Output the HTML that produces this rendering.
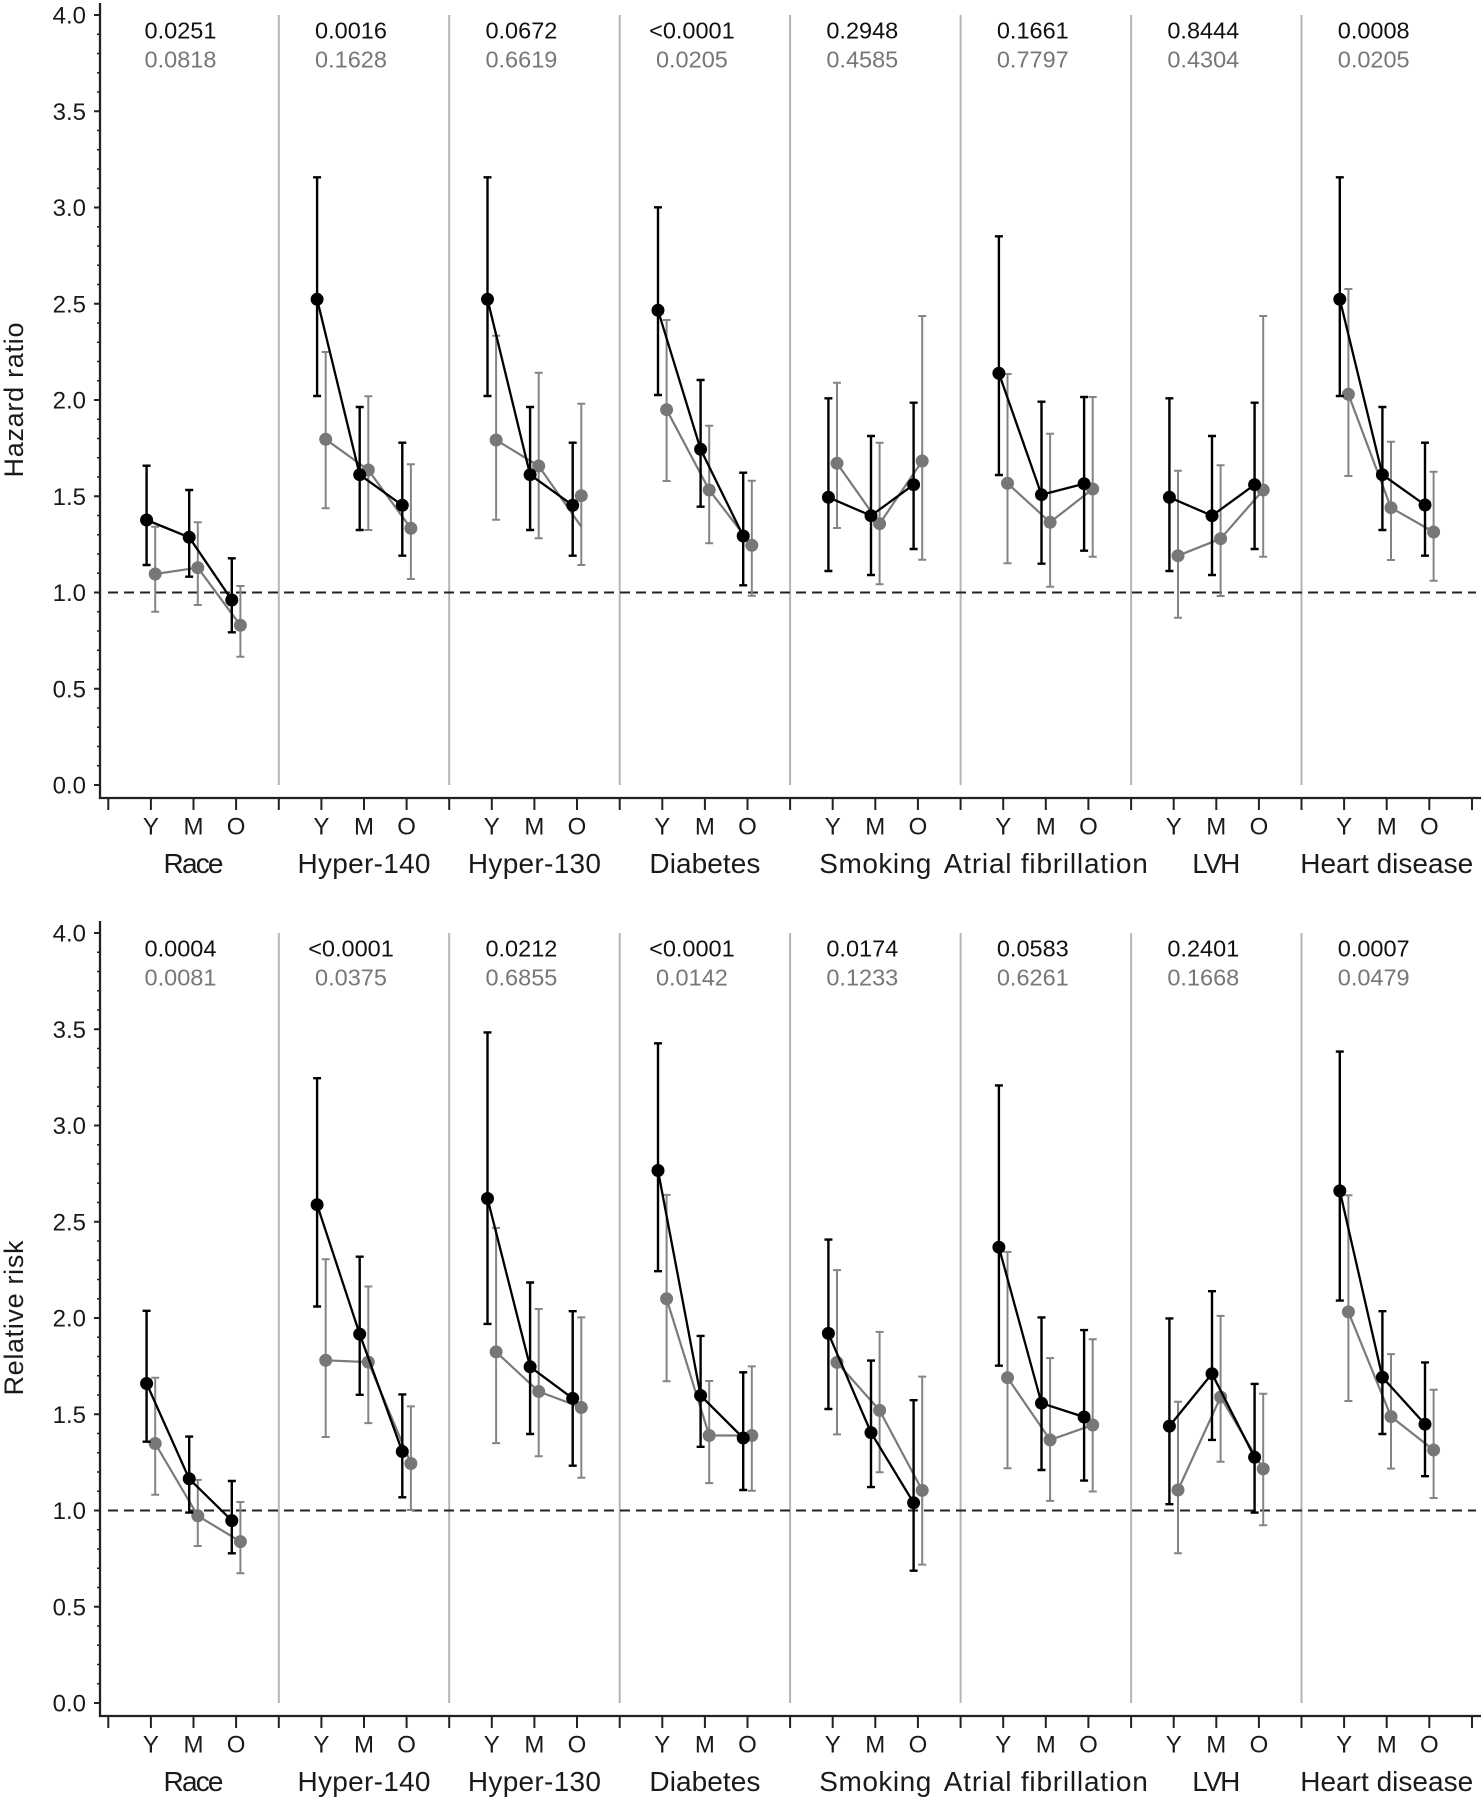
<!DOCTYPE html>
<html><head><meta charset="utf-8"><style>
html,body{margin:0;padding:0;background:#fff;}
svg{display:block;}
text{font-family:"Liberation Sans",sans-serif;}
</style></head><body>
<svg width="1483" height="1800" viewBox="0 0 1483 1800" xmlns="http://www.w3.org/2000/svg">
<rect width="1483" height="1800" fill="#fff"/>
<defs>
<g id="ax">
<path d="M278.8 15V785M449.2 15V785M619.7 15V785M790.1 15V785M960.6 15V785M1131.1 15V785M1301.5 15V785" stroke="#b5b5b5" stroke-width="2" fill="none"/>
<path d="M108 592.5H1476" stroke="#222" stroke-width="2" stroke-dasharray="10 6" fill="none"/>
<path d="M100 3V799M99 798H1481" stroke="#222" stroke-width="2.3" fill="none"/>
<path d="M94 15H100M94 111.25H100M94 207.5H100M94 303.75H100M94 400H100M94 496.25H100M94 592.5H100M94 688.75H100M94 785H100" stroke="#222" stroke-width="2" fill="none"/>
<path d="M98.5 785.75V14" stroke="#222" stroke-width="3" stroke-dasharray="1.5 17.75" fill="none"/>
<path d="M108.3 798V810M150.9 798V810M193.5 798V810M236.1 798V810M278.8 798V810M321.4 798V810M364 798V810M406.6 798V810M449.2 798V810M491.8 798V810M534.4 798V810M577 798V810M619.7 798V810M662.3 798V810M704.9 798V810M747.5 798V810M790.1 798V810M832.7 798V810M875.3 798V810M917.9 798V810M960.6 798V810M1003.2 798V810M1045.8 798V810M1088.4 798V810M1131.1 798V810M1173.7 798V810M1216.3 798V810M1258.9 798V810M1301.5 798V810M1344.1 798V810M1386.7 798V810M1429.3 798V810M1472 798V810" stroke="#222" stroke-width="2" fill="none"/>
</g>
</defs>
<use href="#ax"/>
<use href="#ax" transform="translate(0,918)"/>

<g font-size="24" fill="#1a1a1a" text-anchor="end">
<text x="86" y="23.5">4.0</text><text x="86" y="119.75">3.5</text><text x="86" y="216">3.0</text><text x="86" y="312.25">2.5</text><text x="86" y="408.5">2.0</text><text x="86" y="504.75">1.5</text><text x="86" y="601">1.0</text><text x="86" y="697.25">0.5</text><text x="86" y="793.5">0.0</text>
<text x="86" y="941.5">4.0</text><text x="86" y="1037.75">3.5</text><text x="86" y="1134">3.0</text><text x="86" y="1230.25">2.5</text><text x="86" y="1326.5">2.0</text><text x="86" y="1422.75">1.5</text><text x="86" y="1519">1.0</text><text x="86" y="1615.25">0.5</text><text x="86" y="1711.5">0.0</text>
</g>

<text transform="translate(23,400) rotate(-90)" font-size="27" fill="#1a1a1a" text-anchor="middle" textLength="155">Hazard ratio</text>
<text transform="translate(23,1318) rotate(-90)" font-size="27" fill="#1a1a1a" text-anchor="middle" textLength="155">Relative risk</text>

<g font-size="24" fill="#1a1a1a" text-anchor="middle">
<text x="150.9" y="834.5">Y</text><text x="193.5" y="834.5">M</text><text x="236.1" y="834.5">O</text>
<text x="321.4" y="834.5">Y</text><text x="364" y="834.5">M</text><text x="406.6" y="834.5">O</text>
<text x="491.8" y="834.5">Y</text><text x="534.4" y="834.5">M</text><text x="577" y="834.5">O</text>
<text x="662.3" y="834.5">Y</text><text x="704.9" y="834.5">M</text><text x="747.5" y="834.5">O</text>
<text x="832.7" y="834.5">Y</text><text x="875.3" y="834.5">M</text><text x="917.9" y="834.5">O</text>
<text x="1003.2" y="834.5">Y</text><text x="1045.8" y="834.5">M</text><text x="1088.4" y="834.5">O</text>
<text x="1173.7" y="834.5">Y</text><text x="1216.3" y="834.5">M</text><text x="1258.9" y="834.5">O</text>
<text x="1344.1" y="834.5">Y</text><text x="1386.7" y="834.5">M</text><text x="1429.3" y="834.5">O</text>
<text x="150.9" y="1752.5">Y</text><text x="193.5" y="1752.5">M</text><text x="236.1" y="1752.5">O</text>
<text x="321.4" y="1752.5">Y</text><text x="364" y="1752.5">M</text><text x="406.6" y="1752.5">O</text>
<text x="491.8" y="1752.5">Y</text><text x="534.4" y="1752.5">M</text><text x="577" y="1752.5">O</text>
<text x="662.3" y="1752.5">Y</text><text x="704.9" y="1752.5">M</text><text x="747.5" y="1752.5">O</text>
<text x="832.7" y="1752.5">Y</text><text x="875.3" y="1752.5">M</text><text x="917.9" y="1752.5">O</text>
<text x="1003.2" y="1752.5">Y</text><text x="1045.8" y="1752.5">M</text><text x="1088.4" y="1752.5">O</text>
<text x="1173.7" y="1752.5">Y</text><text x="1216.3" y="1752.5">M</text><text x="1258.9" y="1752.5">O</text>
<text x="1344.1" y="1752.5">Y</text><text x="1386.7" y="1752.5">M</text><text x="1429.3" y="1752.5">O</text>
</g>

<g font-size="28" fill="#1a1a1a" text-anchor="middle">
<text x="193.5" y="873" textLength="60">Race</text>
<text x="364" y="873" textLength="133">Hyper-140</text>
<text x="534.4" y="873" textLength="133">Hyper-130</text>
<text x="704.9" y="873" textLength="111">Diabetes</text>
<text x="875.3" y="873" textLength="112">Smoking</text>
<text x="1045.8" y="873" textLength="204">Atrial fibrillation</text>
<text x="1216.3" y="873" textLength="48">LVH</text>
<text x="1386.7" y="873" textLength="173">Heart disease</text>
<text x="193.5" y="1791" textLength="60">Race</text>
<text x="364" y="1791" textLength="133">Hyper-140</text>
<text x="534.4" y="1791" textLength="133">Hyper-130</text>
<text x="704.9" y="1791" textLength="111">Diabetes</text>
<text x="875.3" y="1791" textLength="112">Smoking</text>
<text x="1045.8" y="1791" textLength="204">Atrial fibrillation</text>
<text x="1216.3" y="1791" textLength="48">LVH</text>
<text x="1386.7" y="1791" textLength="173">Heart disease</text>
</g>

<g font-size="23.5" text-anchor="middle">
<g fill="#111">
<text x="180.5" y="38.5">0.0251</text><text x="351" y="38.5">0.0016</text><text x="521.4" y="38.5">0.0672</text><text x="691.9" y="38.5">&lt;0.0001</text><text x="862.3" y="38.5">0.2948</text><text x="1032.8" y="38.5">0.1661</text><text x="1203.3" y="38.5">0.8444</text><text x="1373.7" y="38.5">0.0008</text>
<text x="180.5" y="956.5">0.0004</text><text x="351" y="956.5">&lt;0.0001</text><text x="521.4" y="956.5">0.0212</text><text x="691.9" y="956.5">&lt;0.0001</text><text x="862.3" y="956.5">0.0174</text><text x="1032.8" y="956.5">0.0583</text><text x="1203.3" y="956.5">0.2401</text><text x="1373.7" y="956.5">0.0007</text>
</g>
<g fill="#777">
<text x="180.5" y="67.5">0.0818</text><text x="351" y="67.5">0.1628</text><text x="521.4" y="67.5">0.6619</text><text x="691.9" y="67.5">0.0205</text><text x="862.3" y="67.5">0.4585</text><text x="1032.8" y="67.5">0.7797</text><text x="1203.3" y="67.5">0.4304</text><text x="1373.7" y="67.5">0.0205</text>
<text x="180.5" y="985.5">0.0081</text><text x="351" y="985.5">0.0375</text><text x="521.4" y="985.5">0.6855</text><text x="691.9" y="985.5">0.0142</text><text x="862.3" y="985.5">0.1233</text><text x="1032.8" y="985.5">0.6261</text><text x="1203.3" y="985.5">0.1668</text><text x="1373.7" y="985.5">0.0479</text>
</g>
</g>

<g fill="none">
<path stroke="#858585" stroke-width="2" d="M151.2 526.7h8M155.2 526.7V611.7M151.2 611.7h8M193.8 522.3h8M197.8 522.3V605M193.8 605h8M236.4 586h8M240.4 586V656.7M236.4 656.7h8M321.7 352h8M325.7 352V508.3M321.7 508.3h8M364.3 396.3h8M368.3 396.3V530M364.3 530h8M406.9 464.3h8M410.9 464.3V579M406.9 579h8M492.1 335.7h8M496.1 335.7V519.7M492.1 519.7h8M534.7 372.7h8M538.7 372.7V538.3M534.7 538.3h8M577.3 403.7h8M581.3 403.7V565M577.3 565h8M662.6 320h8M666.6 320V481M662.6 481h8M705.2 425.7h8M709.2 425.7V543.3M705.2 543.3h8M747.8 480.7h8M751.8 480.7V595.7M747.8 595.7h8M833 382.7h8M837 382.7V528M833 528h8M875.6 442.7h8M879.6 442.7V584.3M875.6 584.3h8M918.2 316h8M922.2 316V559.7M918.2 559.7h8M1003.5 374h8M1007.5 374V563.3M1003.5 563.3h8M1046.1 433.7h8M1050.1 433.7V586.7M1046.1 586.7h8M1088.7 397h8M1092.7 397V556.7M1088.7 556.7h8M1174 470.7h8M1178 470.7V617.7M1174 617.7h8M1216.6 465.3h8M1220.6 465.3V596M1216.6 596h8M1259.2 316h8M1263.2 316V556.7M1259.2 556.7h8M1344.4 289h8M1348.4 289V476M1344.4 476h8M1387 441.7h8M1391 441.7V560M1387 560h8M1429.6 471.7h8M1433.6 471.7V580.7M1429.6 580.7h8
M151.2 1377.7h8M155.2 1377.7V1494.8M151.2 1494.8h8M193.8 1479.9h8M197.8 1479.9V1546M193.8 1546h8M236.4 1502h8M240.4 1502V1573.3M236.4 1573.3h8M321.7 1259.2h8M325.7 1259.2V1437M321.7 1437h8M364.3 1286.5h8M368.3 1286.5V1423.1M364.3 1423.1h8M406.9 1406.4h8M410.9 1406.4V1510M406.9 1510h8M492.1 1227.9h8M496.1 1227.9V1443.1M492.1 1443.1h8M534.7 1309h8M538.7 1309V1456.2M534.7 1456.2h8M577.3 1317.4h8M581.3 1317.4V1477.7M577.3 1477.7h8M662.6 1194.9h8M666.6 1194.9V1381.3M662.6 1381.3h8M705.2 1381h8M709.2 1381V1483.1M705.2 1483.1h8M747.8 1366.4h8M751.8 1366.4V1490.8M747.8 1490.8h8M833 1270.1h8M837 1270.1V1434.4M833 1434.4h8M875.6 1331.9h8M879.6 1331.9V1472.2M875.6 1472.2h8M918.2 1376.6h8M922.2 1376.6V1564.6M918.2 1564.6h8M1003.5 1251.9h8M1007.5 1251.9V1468.2M1003.5 1468.2h8M1046.1 1358.1h8M1050.1 1358.1V1500.9M1046.1 1500.9h8M1088.7 1339.2h8M1092.7 1339.2V1491.5M1088.7 1491.5h8M1174 1401.7h8M1178 1401.7V1553.3M1174 1553.3h8M1216.6 1315.9h8M1220.6 1315.9V1461.7M1216.6 1461.7h8M1259.2 1393.7h8M1263.2 1393.7V1525.3M1259.2 1525.3h8M1344.4 1195.2h8M1348.4 1195.2V1401M1344.4 1401h8M1387 1354.1h8M1391 1354.1V1468.6M1387 1468.6h8M1429.6 1389.7h8M1433.6 1389.7V1498M1429.6 1498h8"/>
<g stroke="#7a7a7a" stroke-width="2.2" stroke-linejoin="round">
<polyline points="155.2,574 197.8,567.7 240.4,625.3"/>
<polyline points="325.7,439.3 368.3,470 410.9,528.3"/>
<polyline points="496.1,440 538.7,466 581.3,526.7"/>
<polyline points="666.6,409.7 709.2,490 751.8,545.3"/>
<polyline points="837,463.3 879.6,523.7 922.2,461"/>
<polyline points="1007.5,483.3 1050.1,522.3 1092.7,489"/>
<polyline points="1178,555.7 1220.6,538.7 1263.2,490"/>
<polyline points="1348.4,394.3 1391,507.7 1433.6,532"/>
<polyline points="155.2,1443.5 197.8,1515.8 240.4,1541.6"/>
<polyline points="325.7,1360.3 368.3,1362.1 410.9,1463.5"/>
<polyline points="496.1,1351.9 538.7,1391.5 581.3,1407.5"/>
<polyline points="666.6,1298.8 709.2,1435.5 751.8,1435.5"/>
<polyline points="837,1362.4 879.6,1410.4 922.2,1490.4"/>
<polyline points="1007.5,1377.7 1050.1,1439.9 1092.7,1425"/>
<polyline points="1178,1490 1220.6,1397 1263.2,1468.9"/>
<polyline points="1348.4,1311.9 1391,1416.6 1433.6,1450"/>
</g>
<path stroke="#777" stroke-width="13" stroke-linecap="round" d="M155.2 574h0M197.8 567.7h0M240.4 625.3h0M325.7 439.3h0M368.3 470h0M410.9 528.3h0M496.1 440h0M538.7 466h0M581.3 495.7h0M666.6 409.7h0M709.2 490h0M751.8 545.3h0M837 463.3h0M879.6 523.7h0M922.2 461h0M1007.5 483.3h0M1050.1 522.3h0M1092.7 489h0M1178 555.7h0M1220.6 538.7h0M1263.2 490h0M1348.4 394.3h0M1391 507.7h0M1433.6 532h0
M155.2 1443.5h0M197.8 1515.8h0M240.4 1541.6h0M325.7 1360.3h0M368.3 1362.1h0M410.9 1463.5h0M496.1 1351.9h0M538.7 1391.5h0M581.3 1407.5h0M666.6 1298.8h0M709.2 1435.5h0M751.8 1435.5h0M837 1362.4h0M879.6 1410.4h0M922.2 1490.4h0M1007.5 1377.7h0M1050.1 1439.9h0M1092.7 1425h0M1178 1490h0M1220.6 1397h0M1263.2 1468.9h0M1348.4 1311.9h0M1391 1416.6h0M1433.6 1450h0"/>
</g>

<g fill="none">
<path stroke="#000" stroke-width="2.4" d="M142.6 465.7h8M146.6 465.7V565M142.6 565h8M185.2 490h8M189.2 490V576.7M185.2 576.7h8M227.8 558.3h8M231.8 558.3V632.3M227.8 632.3h8M313.1 177.3h8M317.1 177.3V396M313.1 396h8M355.7 407h8M359.7 407V530M355.7 530h8M398.3 442.7h8M402.3 442.7V555.7M398.3 555.7h8M483.5 177.3h8M487.5 177.3V396M483.5 396h8M526.1 407h8M530.1 407V530M526.1 530h8M568.7 442.7h8M572.7 442.7V555.7M568.7 555.7h8M654 207.3h8M658 207.3V395M654 395h8M696.6 380h8M700.6 380V506.7M696.6 506.7h8M739.2 472.7h8M743.2 472.7V585.3M739.2 585.3h8M824.4 398.3h8M828.4 398.3V571M824.4 571h8M867 436h8M871 436V575M867 575h8M909.6 402.7h8M913.6 402.7V549M909.6 549h8M994.9 236.3h8M998.9 236.3V475M994.9 475h8M1037.5 401.7h8M1041.5 401.7V563.7M1037.5 563.7h8M1080.1 397h8M1084.1 397V550.7M1080.1 550.7h8M1165.4 398.3h8M1169.4 398.3V571M1165.4 571h8M1208 436h8M1212 436V575M1208 575h8M1250.6 402.7h8M1254.6 402.7V549M1250.6 549h8M1335.8 177.3h8M1339.8 177.3V396M1335.8 396h8M1378.4 407h8M1382.4 407V530M1378.4 530h8M1421 442.7h8M1425 442.7V555.7M1421 555.7h8
M142.6 1310.8h8M146.6 1310.8V1441.7M142.6 1441.7h8M185.2 1436.6h8M189.2 1436.6V1512.6M185.2 1512.6h8M227.8 1481h8M231.8 1481V1553.3M227.8 1553.3h8M313.1 1078.2h8M317.1 1078.2V1306.5M313.1 1306.5h8M355.7 1256.7h8M359.7 1256.7V1394.8M355.7 1394.8h8M398.3 1394.4h8M402.3 1394.4V1497.3M398.3 1497.3h8M483.5 1032.4h8M487.5 1032.4V1323.9M483.5 1323.9h8M526.1 1282.5h8M530.1 1282.5V1434M526.1 1434h8M568.7 1311.2h8M572.7 1311.2V1465.7M568.7 1465.7h8M654 1043.3h8M658 1043.3V1271.2M654 1271.2h8M696.6 1335.9h8M700.6 1335.9V1446.8M696.6 1446.8h8M739.2 1372.3h8M743.2 1372.3V1490M739.2 1490h8M824.4 1239.6h8M828.4 1239.6V1409M824.4 1409h8M867 1360.6h8M871 1360.6V1487.1M867 1487.1h8M909.6 1400.2h8M913.6 1400.2V1570.7M909.6 1570.7h8M994.9 1085.4h8M998.9 1085.4V1365.7M994.9 1365.7h8M1037.5 1317.4h8M1041.5 1317.4V1470M1037.5 1470h8M1080.1 1330.1h8M1084.1 1330.1V1480.6M1080.1 1480.6h8M1165.4 1318.4h8M1169.4 1318.4V1504.2M1165.4 1504.2h8M1208 1291.2h8M1212 1291.2V1439.9M1208 1439.9h8M1250.6 1383.9h8M1254.6 1383.9V1512.6M1250.6 1512.6h8M1335.8 1051.6h8M1339.8 1051.6V1300.6M1335.8 1300.6h8M1378.4 1311.2h8M1382.4 1311.2V1434M1378.4 1434h8M1421 1362.4h8M1425 1362.4V1476.2M1421 1476.2h8"/>
<g stroke="#000" stroke-width="2.3" stroke-linejoin="round">
<polyline points="146.6,520 189.2,537.3 231.8,600"/>
<polyline points="317.1,299.3 359.7,474.7 402.3,505.3"/>
<polyline points="487.5,299.3 530.1,474.7 572.7,505.3"/>
<polyline points="658,310.3 700.6,449.3 743.2,536"/>
<polyline points="828.4,497.3 871,515.7 913.6,484.7"/>
<polyline points="998.9,373.3 1041.5,494.7 1084.1,483.7"/>
<polyline points="1169.4,497.3 1212,515.7 1254.6,484.7"/>
<polyline points="1339.8,299.3 1382.4,474.7 1425,505"/>
<polyline points="146.6,1383.5 189.2,1478.8 231.8,1520.6"/>
<polyline points="317.1,1204.7 359.7,1334.1 402.3,1451.5"/>
<polyline points="487.5,1198.5 530.1,1366.8 572.7,1398.4"/>
<polyline points="658,1170.5 700.6,1395.5 743.2,1438"/>
<polyline points="828.4,1333.4 871,1432.6 913.6,1502.8"/>
<polyline points="998.9,1247.2 1041.5,1403.2 1084.1,1417"/>
<polyline points="1169.4,1426.1 1212,1373.7 1254.6,1457.3"/>
<polyline points="1339.8,1190.9 1382.4,1377.3 1425,1424.2"/>
</g>
<path stroke="#000" stroke-width="13" stroke-linecap="round" d="M146.6 520h0M189.2 537.3h0M231.8 600h0M317.1 299.3h0M359.7 474.7h0M402.3 505.3h0M487.5 299.3h0M530.1 474.7h0M572.7 505.3h0M658 310.3h0M700.6 449.3h0M743.2 536h0M828.4 497.3h0M871 515.7h0M913.6 484.7h0M998.9 373.3h0M1041.5 494.7h0M1084.1 483.7h0M1169.4 497.3h0M1212 515.7h0M1254.6 484.7h0M1339.8 299.3h0M1382.4 474.7h0M1425 505h0
M146.6 1383.5h0M189.2 1478.8h0M231.8 1520.6h0M317.1 1204.7h0M359.7 1334.1h0M402.3 1451.5h0M487.5 1198.5h0M530.1 1366.8h0M572.7 1398.4h0M658 1170.5h0M700.6 1395.5h0M743.2 1438h0M828.4 1333.4h0M871 1432.6h0M913.6 1502.8h0M998.9 1247.2h0M1041.5 1403.2h0M1084.1 1417h0M1169.4 1426.1h0M1212 1373.7h0M1254.6 1457.3h0M1339.8 1190.9h0M1382.4 1377.3h0M1425 1424.2h0"/>
</g>
</svg>
</body></html>
